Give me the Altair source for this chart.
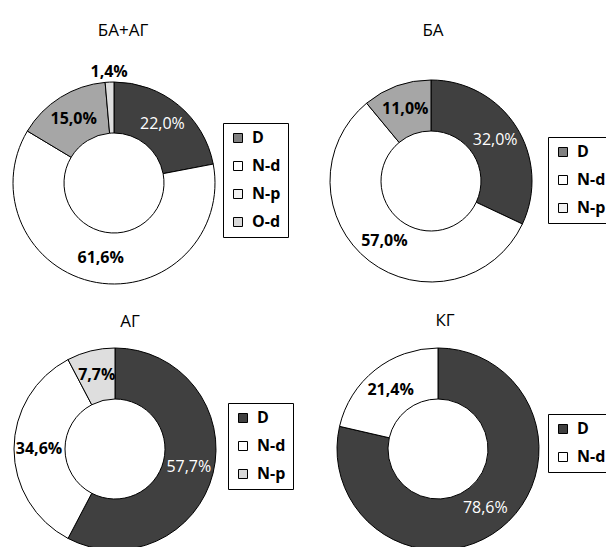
import math
import altair as alt
import pandas as pd

# ---- data ----
panel_titles = ["БА+АГ", "БА", "АГ", "КГ"]
panel_cats = [
    ["D", "N-d", "N-p", "O-d"],
    ["D", "N-d", "N-p"],
    ["D", "N-d", "N-p"],
    ["D", "N-d"],
]
panel_vals = [
    [22.0, 61.6, 15.0, 1.4],
    [32.0, 57.0, 11.0],
    [57.7, 34.6, 7.7],
    [78.6, 21.4],
]

# ---- styles ----
slice_colors = [
    ["#404040", "#ffffff", "#a6a6a6", "#dedede"],
    ["#404040", "#ffffff", "#a6a6a6"],
    ["#404040", "#ffffff", "#dedede"],
    ["#404040", "#ffffff"],
]
swatch_colors = [
    ["#808080", "#ffffff", "#f2f2f2", "#d9d9d9"],
    ["#808080", "#ffffff", "#f2f2f2"],
    ["#404040", "#ffffff", "#d9d9d9"],
    ["#404040", "#ffffff"],
]
centers = [(114, 183), (431, 181), (115, 449), (438, 449)]
title_pos = [(123, 31), (433, 31), (130, 322), (445, 321)]
legend_pos = [(223, 123), (548, 137), (228, 403), (548, 414)]

FONT = "Open Sans"
R_OUT, R_IN = 101, 50
TWO_PI = 2 * math.pi

layers = []
for i in range(4):
    df = pd.DataFrame({
        "cat": panel_cats[i],
        "value": panel_vals[i],
        "idx": list(range(len(panel_cats[i]))),
    })
    cx, cy = centers[i]
    base = (
        alt.Chart(df)
        .transform_joinaggregate(total="sum(value)")
        .transform_window(cum="sum(value)", sort=[alt.SortField("idx")], frame=[None, 0])
        .transform_calculate(
            t0=f"{TWO_PI}*(datum.cum-datum.value)/datum.total",
            t1=f"{TWO_PI}*datum.cum/datum.total",
            tm=f"{TWO_PI}*(datum.cum-datum.value/2)/datum.total",
            r="datum.value < 5 ? 111 : 76",
            lbl="replace(format(datum.value, '.1f'), '.', ',') + '%'",
        )
    )
    arcs = base.mark_arc(
        innerRadius=R_IN, outerRadius=R_OUT, stroke="black", strokeWidth=1
    ).encode(
        x=alt.value(cx), y=alt.value(cy),
        theta=alt.Theta("t0:Q", scale=None),
        theta2=alt.Theta2("t1:Q"),
        color=alt.Color("cat:N", scale=alt.Scale(domain=panel_cats[i], range=slice_colors[i]), legend=None),
    )
    txt_dark = base.transform_filter("datum.cat == 'D'").mark_text(
        font=FONT, fontSize=16, color="white", fontWeight="normal"
    ).encode(
        x=alt.value(cx), y=alt.value(cy),
        theta=alt.Theta("tm:Q", scale=None),
        radius=alt.Radius("r:Q", scale=None),
        text="lbl:N",
    )
    txt_light = base.transform_filter("datum.cat != 'D'").mark_text(
        font=FONT, fontSize=16, color="black", fontWeight="bold"
    ).encode(
        x=alt.value(cx), y=alt.value(cy),
        theta=alt.Theta("tm:Q", scale=None),
        radius=alt.Radius("r:Q", scale=None),
        text="lbl:N",
    )
    lx, ly = legend_pos[i]
    leg = alt.Chart(df).mark_square(opacity=0, stroke="black", strokeWidth=1, filled=True).encode(
        x=alt.value(cx), y=alt.value(cy),
        color=alt.Color(
            "cat:N",
            scale=alt.Scale(domain=panel_cats[i], range=swatch_colors[i]),
            legend=alt.Legend(
                title=None, orient="none", legendX=lx, legendY=ly,
                symbolType="square", symbolSize=81, symbolOpacity=1,
                symbolStrokeColor="black", symbolStrokeWidth=1,
                labelFont=FONT, labelFontSize=16, labelFontWeight="bold",
                labelColor="black", labelOffset=6,
                strokeColor="black", fillColor="white", padding=7, rowPadding=12,
            ),
        ),
    )
    tx, ty = title_pos[i]
    title = alt.Chart(pd.DataFrame({"t": [panel_titles[i]]})).mark_text(
        font=FONT, fontSize=17, color="black", baseline="middle", align="center"
    ).encode(x=alt.value(tx), y=alt.value(ty), text="t:N")
    layers += [arcs, txt_dark, txt_light, leg, title]

chart = (
    alt.layer(*layers)
    .resolve_scale(color="independent")
    .properties(width=606, height=547, autosize="none", padding=0, background="white")
    .configure_view(stroke=None)
)
chart.save("out.html", embed_options={"renderer": "svg", "actions": False})
